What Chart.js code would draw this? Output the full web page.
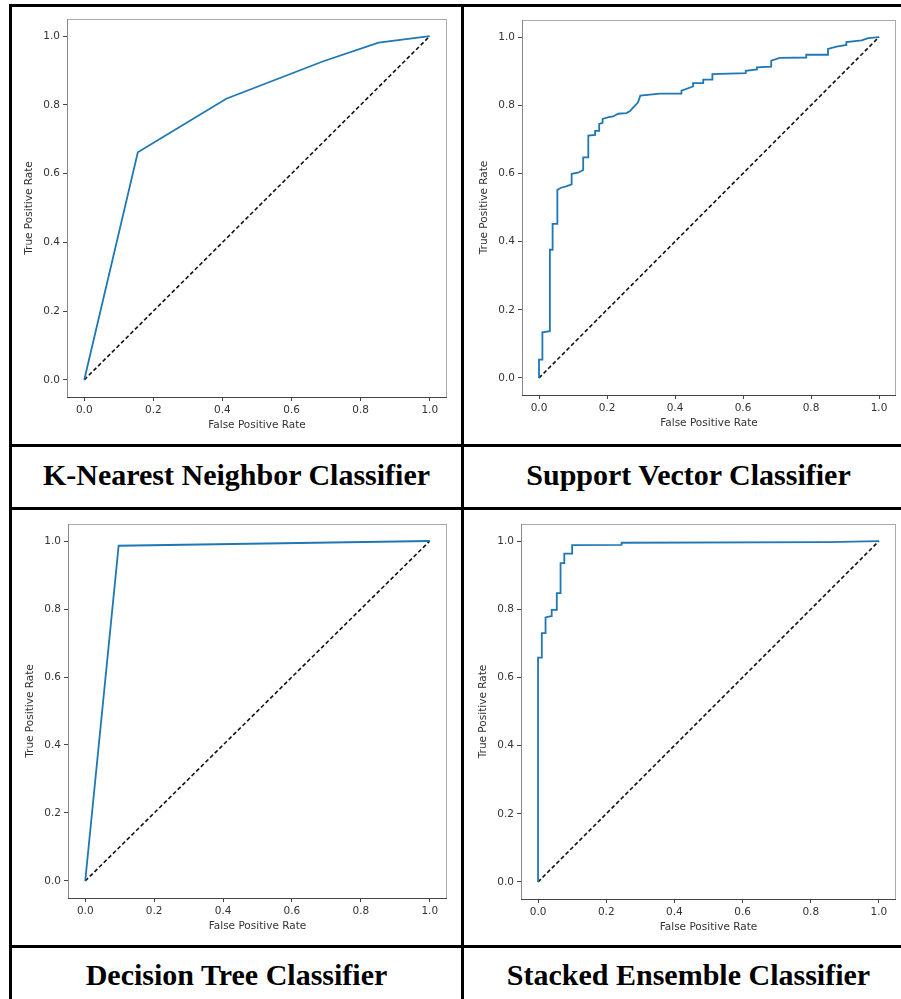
<!DOCTYPE html>
<html>
<head>
<meta charset="utf-8">
<script src="https://cdn.jsdelivr.net/npm/chart.js@4.4.1/dist/chart.umd.min.js"></script>
<style>
  html, body { margin: 0; padding: 0; background: #fff; overflow: hidden; }
  body { width: 901px; height: 999px; position: relative; }
  .rule { position: absolute; background: #000; }
  .panel { position: absolute; }
  .caption {
    position: absolute; width: 449px; height: 60px; line-height: 60px;
    text-align: center; font-family: 'Liberation Serif', 'Times New Roman', serif;
    font-weight: bold; font-size: 30px; color: #000; white-space: nowrap;
  }
</style>
</head>
<body>
<script>
// ---- data ----
const tickVals = [0, 0.2, 0.4, 0.6, 0.8, 1.0];
const chanceFpr = [0, 1];
const chanceTpr = [0, 1];

const knnFpr = [0, 0.155, 0.411, 0.692, 0.852, 1.0];
const knnTpr = [0, 0.662, 0.818, 0.927, 0.981, 1.0];

const svcFpr = [0, 0, 0.010, 0.010, 0.032, 0.032, 0.040, 0.040, 0.054, 0.054, 0.065, 0.080, 0.096, 0.096, 0.115, 0.130, 0.130, 0.145, 0.145, 0.165,
  0.165, 0.177, 0.177, 0.187, 0.187, 0.205, 0.218, 0.233, 0.257, 0.267, 0.276, 0.291, 0.298, 0.356, 0.419, 0.419, 0.453, 0.453, 0.483, 0.483,
  0.510, 0.510, 0.608, 0.608, 0.641, 0.641, 0.683, 0.683, 0.708, 0.786, 0.786, 0.850, 0.850, 0.875, 0.904, 0.904, 0.949, 0.968, 1.0];
const svcTpr = [0, 0.054, 0.054, 0.134, 0.137, 0.376, 0.376, 0.452, 0.452, 0.552, 0.558, 0.562, 0.568, 0.599, 0.602, 0.610, 0.647, 0.647, 0.711, 0.713,
  0.725, 0.725, 0.745, 0.748, 0.760, 0.765, 0.767, 0.775, 0.777, 0.782, 0.792, 0.808, 0.828, 0.834, 0.834, 0.843, 0.855, 0.865, 0.865, 0.875,
  0.875, 0.891, 0.894, 0.901, 0.905, 0.911, 0.913, 0.931, 0.939, 0.940, 0.948, 0.948, 0.965, 0.972, 0.977, 0.985, 0.990, 0.997, 1.0];

const dtFpr = [0, 0.097, 1.0];
const dtTpr = [0, 0.986, 1.0];

const stackFpr = [0, 0, 0.011, 0.011, 0.022, 0.022, 0.038, 0.040, 0.055, 0.055, 0.066, 0.066, 0.077, 0.077, 0.100, 0.100, 0.245, 0.245, 0.850, 1.0];
const stackTpr = [0, 0.658, 0.658, 0.730, 0.730, 0.776, 0.780, 0.798, 0.798, 0.847, 0.847, 0.935, 0.935, 0.963, 0.963, 0.988, 0.989, 0.995, 0.997, 1.0];

const captions = ['K-Nearest Neighbor Classifier', 'Support Vector Classifier', 'Decision Tree Classifier', 'Stacked Ensemble Classifier'];
const xTitle = 'False Positive Rate';
const yTitle = 'True Positive Rate';

// ---- table rules ----
const rules = [
  [9, 4, 904, 3], [9, 444, 904, 3], [9, 507, 904, 3], [9, 945, 904, 3],
  [9, 4, 3, 1000], [461, 4, 3, 1000], [913, 4, 3, 1000],
];
rules.forEach(([x, y, w, h]) => {
  const d = document.createElement('div');
  d.className = 'rule';
  d.style.cssText = `left:${x}px;top:${y}px;width:${w}px;height:${h}px`;
  document.body.appendChild(d);
});

// canvas box + wanted plot area (page coords)
const panels = [
  { fpr: knnFpr, tpr: knnTpr, box: [12, 7, 449, 437], area: [67, 19, 447, 397] },
  { fpr: svcFpr, tpr: svcTpr, box: [464, 7, 449, 437], area: [522, 20, 896, 395] },
  { fpr: dtFpr, tpr: dtTpr, box: [12, 510, 449, 435], area: [68, 524, 447, 898] },
  { fpr: stackFpr, tpr: stackTpr, box: [464, 510, 449, 435], area: [521, 524, 896, 899] },
];
const capPos = [[12, 445], [464, 445], [12, 945], [464, 945]];

const Y_W = 43.8;   // y scale width (title + ticks)
const X_H = 34.8;   // x scale height

const spines = {
  id: 'spines',
  afterDraw: (chart) => {
    const { ctx, chartArea: a } = chart;
    ctx.save();
    ctx.lineWidth = 1;
    ctx.strokeStyle = '#aaa';
    ctx.beginPath();
    ctx.moveTo(a.left, a.top + 0.5); ctx.lineTo(a.right, a.top + 0.5);
    ctx.moveTo(a.right - 0.5, a.top); ctx.lineTo(a.right - 0.5, a.bottom);
    ctx.stroke();
    ctx.strokeStyle = '#888';
    ctx.beginPath();
    ctx.moveTo(a.left + 0.5, a.top); ctx.lineTo(a.left + 0.5, a.bottom);
    ctx.stroke();
    ctx.strokeStyle = '#444';
    ctx.beginPath();
    ctx.moveTo(a.left, a.bottom + 0.5); ctx.lineTo(a.right, a.bottom + 0.5);
    ctx.stroke();
    ctx.restore();
  },
};

const toPts = (xs, ys) => xs.map((x, i) => ({ x: x, y: ys[i] }));
const tickFont = { family: 'DejaVu Sans', size: 10.5 };

panels.forEach((p, i) => {
  const [cx, cy, cw, ch] = p.box;
  const [L, T, R, B] = p.area;
  const cv = document.createElement('canvas');
  cv.className = 'panel';
  cv.width = cw; cv.height = ch;
  cv.style.cssText = `left:${cx}px;top:${cy}px;width:${cw}px;height:${ch}px`;
  document.body.appendChild(cv);

  const axis = (title, isY) => ({
    type: 'linear',
    min: -0.05,
    max: 1.05,
    afterBuildTicks: (s) => { s.ticks = tickVals.map((v) => ({ value: v })); },
    afterFit: (s) => { if (isY) s.width = Y_W; else s.height = X_H; },
    border: { display: false },
    grid: { drawOnChartArea: false, drawTicks: true, tickLength: 4, color: '#444' },
    ticks: { color: '#333', font: tickFont, padding: 3, maxRotation: 0, callback: (v) => v.toFixed(1) },
    title: { display: true, text: title, color: '#333', font: tickFont, padding: 0 },
  });

  new Chart(cv, {
    type: 'scatter',
    data: {
      datasets: [
        {
          data: toPts(p.fpr, p.tpr),
          showLine: true,
          borderColor: '#1f77b4',
          borderWidth: 1.8,
          pointRadius: 0,
          tension: 0,
        },
        {
          data: toPts(chanceFpr, chanceTpr),
          showLine: true,
          borderColor: '#111',
          borderWidth: 1.6,
          borderDash: [4, 2.5],
          pointRadius: 0,
        },
      ],
    },
    plugins: [spines],
    options: {
      responsive: false,
      animation: false,
      devicePixelRatio: 1,
      layout: {
        padding: { left: L - cx - Y_W, top: T - cy, right: cx + cw - R, bottom: cy + ch - (B + X_H) },
      },
      plugins: { legend: { display: false }, tooltip: { enabled: false } },
      scales: { x: axis(xTitle, false), y: axis(yTitle, true) },
    },
  });

  const c = document.createElement('div');
  c.className = 'caption';
  c.textContent = captions[i];
  c.style.left = capPos[i][0] + 'px';
  c.style.top = capPos[i][1] + 'px';
  document.body.appendChild(c);
});
</script>
</body>
</html>
